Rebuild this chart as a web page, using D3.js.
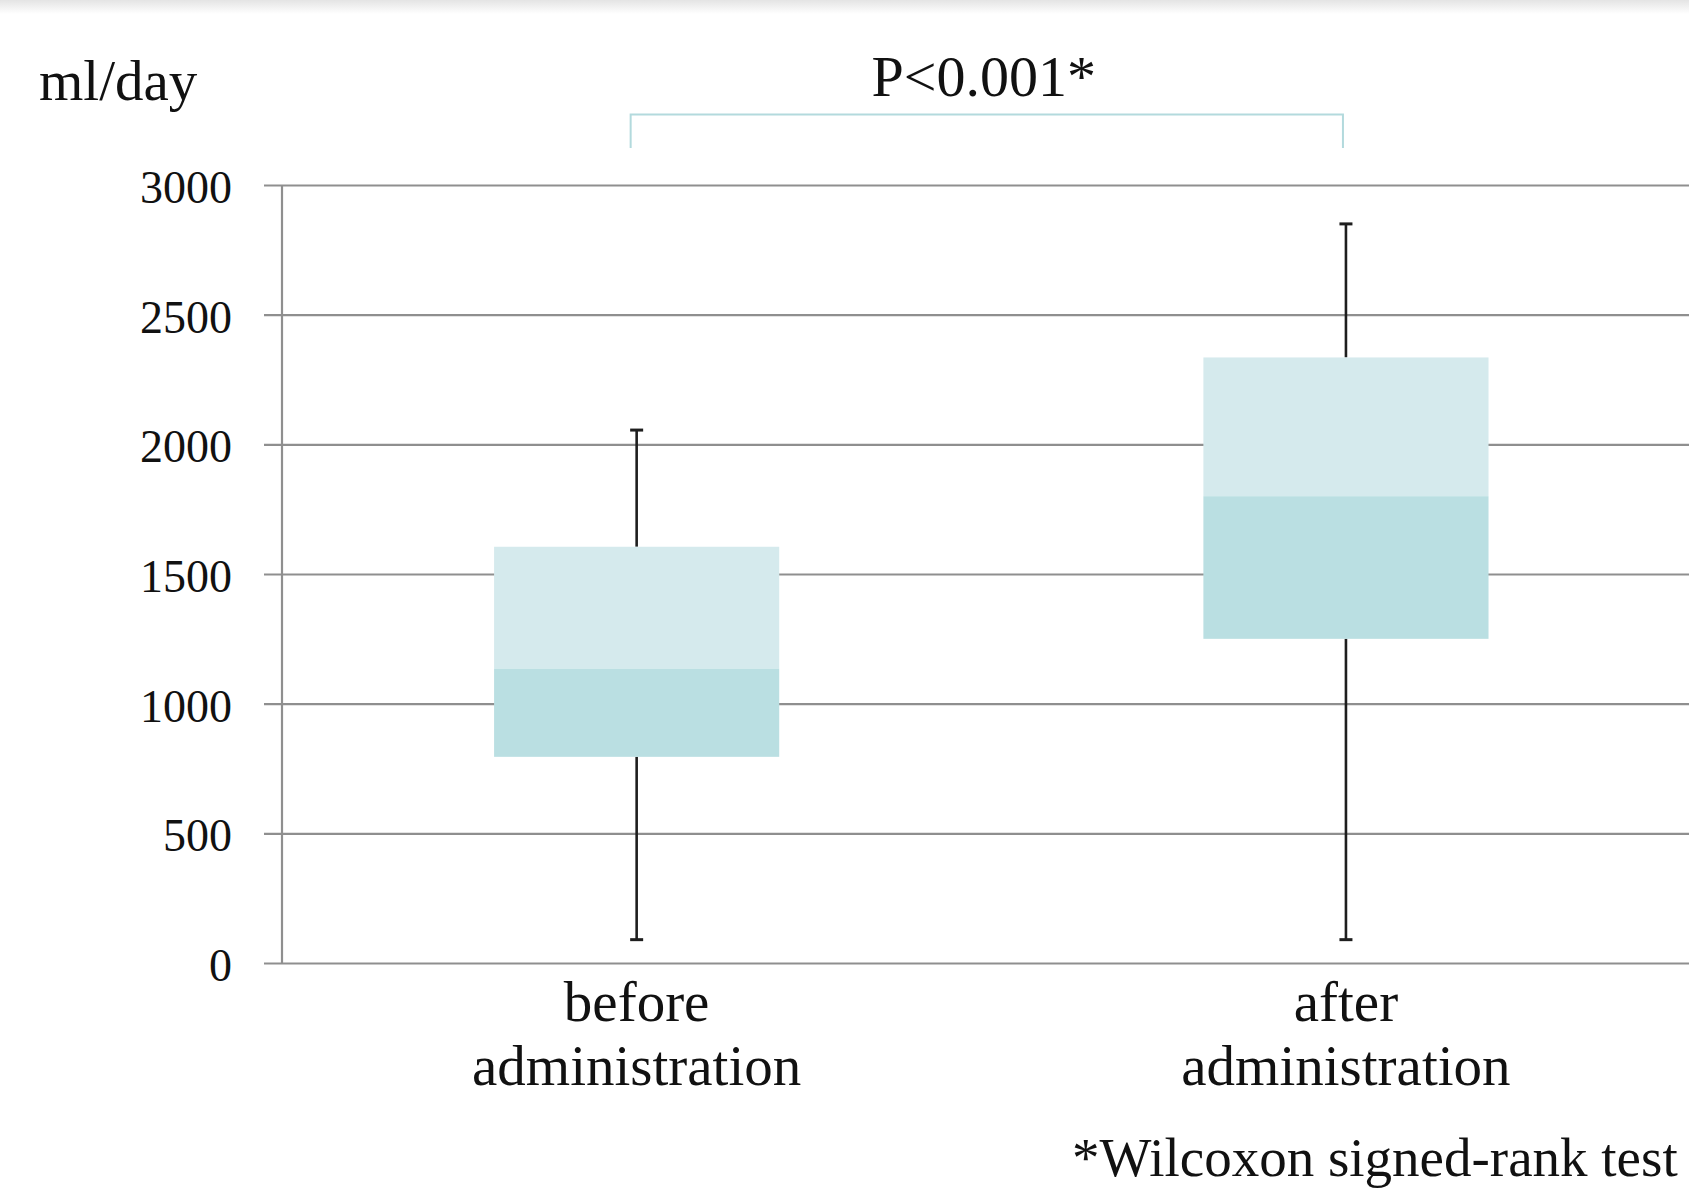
<!DOCTYPE html>
<html>
<head>
<meta charset="utf-8">
<script src="https://cdn.jsdelivr.net/npm/d3@7"></script>
<style>
  html, body { margin: 0; padding: 0; background: #fff; overflow: hidden; }
  svg { display: block; }
  text { font-family: "Liberation Serif", "DejaVu Serif", serif; fill: #111; }
</style>
</head>
<body>
<svg id="chart" width="1689" height="1195"></svg>
<script>
// Daily volume (ml/day) before and after administration, five-number summaries
const categories = ["before", "after"];
const categoryLines = [["before", "administration"], ["after", "administration"]];
const whiskerLow  = [90, 90];
const quartile1   = [795, 1250];
const medians     = [1135, 1800];
const quartile3   = [1605, 2335];
const whiskerHigh = [2055, 2850];
const yTicks = [0, 500, 1000, 1500, 2000, 2500, 3000];
const unitLabel = "ml/day";
const pLabel = "P<0.001*";
const testNote = "*Wilcoxon signed-rank test";

const boxes = categories.map((c, i) => ({
  key: c, lines: categoryLines[i],
  lo: whiskerLow[i], q1: quartile1[i], med: medians[i], q3: quartile3[i], hi: whiskerHigh[i]
}));

const W = 1689, H = 1195;
const svg = d3.select("#chart");

// faint shade along the top edge
const defs = svg.append("defs");
const grad = defs.append("linearGradient").attr("id", "topShade")
  .attr("x1", 0).attr("y1", 0).attr("x2", 0).attr("y2", 1);
grad.append("stop").attr("offset", "0%").attr("stop-color", "#e4e4e4");
grad.append("stop").attr("offset", "100%").attr("stop-color", "#ffffff");
svg.append("rect").attr("x", 0).attr("y", 0).attr("width", W).attr("height", 14)
  .attr("fill", "url(#topShade)");

const axisX = 282;
const y = d3.scaleLinear().domain([0, 3000]).range([963, 185]);
const x = d3.scaleBand().domain(categories).range([axisX, axisX + 2 * 709.3]).padding(0);
const boxW = x.bandwidth() * 0.402;

// horizontal gridlines with outward ticks
const yAxis = d3.axisLeft(y).tickValues(yTicks).tickSize(-(W - 264)).tickFormat(d3.format("d"));
const gAxis = svg.append("g").attr("transform", `translate(264,0)`).call(yAxis);
gAxis.select(".domain").remove();
gAxis.selectAll(".tick line").attr("stroke", "#8f8f8f").attr("stroke-width", 2.2);
gAxis.selectAll(".tick text")
  .attr("x", -32).attr("dy", "0.38em")
  .style("font-size", "46px")
  .style("font-family", "'Liberation Serif', serif")
  .style("font-variant-numeric", "oldstyle-nums")
  .attr("fill", "#111");

// vertical axis line
svg.append("line")
  .attr("x1", axisX).attr("x2", axisX)
  .attr("y1", y(3000)).attr("y2", y(0))
  .attr("stroke", "#8f8f8f").attr("stroke-width", 2.2);

// boxes: lower (Q1–median) and upper (median–Q3) halves
const gBox = svg.append("g");
boxes.forEach(b => {
  const cx = x(b.key) + x.bandwidth() / 2;
  // whiskers
  gBox.append("line").attr("x1", cx).attr("x2", cx).attr("y1", y(b.hi)).attr("y2", y(b.q3))
    .attr("stroke", "#1e1e1e").attr("stroke-width", 2.6);
  gBox.append("line").attr("x1", cx).attr("x2", cx).attr("y1", y(b.q1)).attr("y2", y(b.lo))
    .attr("stroke", "#1e1e1e").attr("stroke-width", 2.6);
  [b.hi, b.lo].forEach(v => {
    gBox.append("line").attr("x1", cx - 6.5).attr("x2", cx + 6.5).attr("y1", y(v)).attr("y2", y(v))
      .attr("stroke", "#1e1e1e").attr("stroke-width", 3);
  });
  gBox.append("rect")
    .attr("x", cx - boxW / 2).attr("width", boxW)
    .attr("y", y(b.q3)).attr("height", y(b.med) - y(b.q3))
    .attr("fill", "#d5eaed");
  gBox.append("rect")
    .attr("x", cx - boxW / 2).attr("width", boxW)
    .attr("y", y(b.med)).attr("height", y(b.q1) - y(b.med))
    .attr("fill", "#badfe2");
});

// category labels
boxes.forEach(b => {
  const cx = x(b.key) + x.bandwidth() / 2;
  const t = svg.append("text").attr("text-anchor", "middle").style("font-size", "57px");
  b.lines.forEach((ln, j) => {
    t.append("tspan").attr("x", cx).attr("y", 1021 + j * 64).text(ln);
  });
});

// unit label
svg.append("text").attr("x", 39).attr("y", 100).style("font-size", "57px").text(unitLabel);

// significance bracket
const bx1 = x(categories[0]) + x.bandwidth() / 2 - 6;
const bx2 = x(categories[1]) + x.bandwidth() / 2 - 3;
svg.append("path")
  .attr("d", `M${bx1},148 V114.5 H${bx2} V148`)
  .attr("fill", "none").attr("stroke", "#b3dadd").attr("stroke-width", 2);
svg.append("text").attr("x", (bx1 + bx2) / 2 - 3).attr("y", 96)
  .attr("text-anchor", "middle").style("font-size", "58px").text(pLabel);

// footnote, kept inside the right edge
const note = svg.append("text").attr("x", 1072).attr("y", 1176).style("font-size", "56px").text(testNote);
let fs = 56;
while (fs > 40 && 1072 + note.node().getComputedTextLength() > W - 4) {
  fs -= 1;
  note.style("font-size", fs + "px");
}
</script>
</body>
</html>
